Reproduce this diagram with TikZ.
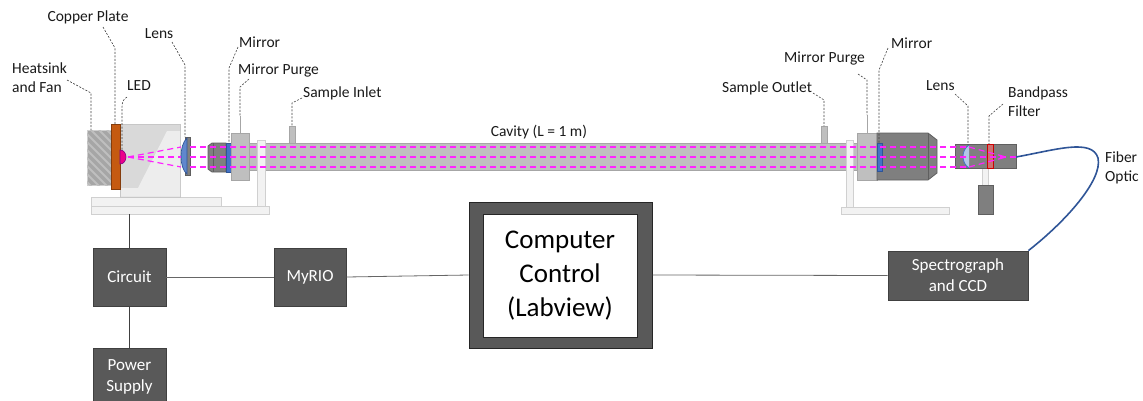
\documentclass[tikz,border=0pt]{standalone}
\usepackage{fontspec}
\setmainfont{Carlito}
\definecolor{copper}{HTML}{C55A11}
\definecolor{copperdk}{HTML}{843C0C}
\definecolor{mirrorblue}{HTML}{4472C4}
\definecolor{mirrorbd}{HTML}{2F5597}
\definecolor{boxgray}{HTML}{595959}
\definecolor{boxbd}{HTML}{404040}
\definecolor{darkpart}{HTML}{7F7F7F}
\definecolor{darkbd}{HTML}{5F5F5F}
\definecolor{midpart}{HTML}{BFBFBF}
\definecolor{midbd}{HTML}{A6A6A6}
\definecolor{lightpart}{HTML}{F2F2F2}
\definecolor{lightbd}{HTML}{D0D0D0}
\definecolor{fiberblue}{HTML}{2F5597}
\definecolor{beamcol}{HTML}{FF22FF}
\begin{document}
\begin{tikzpicture}[x=1pt,y=-1pt,
  lbl/.style={font=\fontsize{15.5}{19}\selectfont, inner sep=0pt, align=left, text=black!90},
  leader/.style={draw=black!75, dash pattern=on 2pt off 1.5pt, line width=0.6pt},
  beam/.style={draw=beamcol, dash pattern=on 6pt off 4pt, line width=1.2pt},
  lightfill/.style={fill=lightpart, draw=lightbd, line width=0.8pt},
  midfill/.style={fill=midpart, draw=midbd, line width=0.8pt},
  darkfill/.style={fill=darkpart, draw=darkbd, line width=0.8pt},
  mirror/.style={fill=mirrorblue, draw=mirrorbd, line width=0.8pt},
  blockbox/.style={fill=boxgray, draw=boxbd, line width=0.8pt, text=white,
    font=\fontsize{17}{21}\selectfont, align=center, inner sep=0pt},
  wire/.style={draw=black!60, line width=0.8pt},
  fiber/.style={draw=fiberblue, line width=1.6pt}
]
\useasboundingbox (0,0) rectangle (1143,400);

% ---------- optical bench: bases and posts ----------
\path[lightfill] (91,197) rectangle (221,206);
\path[lightfill] (91,206) rectangle (269,214);
\path[lightfill] (841,207) rectangle (949,214);

% cavity tube
\path[midfill] (245,143) rectangle (862,170);
\path[midfill] (289,126) rectangle (295,143);   % sample inlet
\path[midfill] (821,126) rectangle (827,143);   % sample outlet

% posts
\path[lightfill] (257,140) rectangle (265,206);
\path[lightfill] (846,140) rectangle (853,207);

% ---------- source side ----------
% heatsink with fins
\path[fill=midbd, draw=lightbd, line width=0.8pt] (87,130) rectangle (111,185);
\begin{scope}
  \clip (87,130) rectangle (111,185);
  \foreach \s in {27,35,...,115}
    \draw[midpart, line width=2pt] (\s,130) -- ++(60,60);
\end{scope}
% LED housing
\path[fill=black!15, draw=black!22, line width=0.8pt] (120,124) rectangle (180,197);
\path[fill=black!7] (167,131) -- (180,131) -- (180,196.5) -- (121,196.5) -- (121,188) -- (138,188) -- cycle;
% copper plate
\path[fill=copper, draw=copperdk, line width=0.8pt] (111,124) rectangle (120,189);
% LED
\path[fill=magenta, draw=violet, line width=0.6pt] (120,150) .. controls (128,150) and (128,164) .. (120,164) -- cycle;
% lens
\path[darkfill] (185,137) rectangle (190,175);
\path[fill=mirrorblue!85, draw=mirrorbd, line width=0.7pt] (187,138) .. controls (179,145) and (179,168) .. (187,174) -- cycle;
% mirror mount, mirror, purge block
\path[darkfill] (208,146) -- (212,143) -- (226,143) -- (226,172) -- (212,172) -- (208,169) -- cycle;
\draw[darkbd, line width=0.6pt] (213,143) -- (213,172);
\path[mirror] (226,143) rectangle (231,172);
\path[midfill] (231,133) rectangle (249,180);
\draw[midbd, line width=1pt] (240,116) -- (240,133);

% ---------- detection side ----------
\path[midfill] (857,133) rectangle (877,180);
\draw[midbd, line width=1pt] (867,115) -- (867,133);
\path[darkfill] (877,133) -- (928,133) -- (937,140) -- (937,173) -- (928,180) -- (877,180) -- cycle;
\draw[darkbd, line width=0.6pt] (928,133) -- (928,180);
\path[mirror] (877,143) rectangle (882,171);
% detector tube and stand
\path[lightfill] (982,168) rectangle (988,185);
\path[darkfill] (978,185) rectangle (993,214);
\path[darkfill] (955,144) rectangle (1016,168);
\path[fill=mirrorblue!40, draw=mirrorblue, line width=0.8pt] (969,145) .. controls (961,150) and (961,163) .. (969,168);
\path[fill=red!60, fill opacity=0.6, draw=red!80!black, line width=0.8pt] (987,144) rectangle (993,168);

% ---------- light path ----------
\draw[beam] (128,157) -- (181,147);
\draw[beam] (128,157) -- (181,157);
\draw[beam] (128,157) -- (181,167);
\draw[beam] (190,147) -- (969,147);
\draw[beam] (190,157) -- (1016,157);
\draw[beam] (190,167) -- (969,167);
\draw[beam] (969,147) -- (1006,157);
\draw[beam] (969,167) -- (1006,157);

% ---------- labels and leaders ----------
\node[lbl, anchor=west] (lHeat) at (12,78) {Heatsink\\and Fan};
\draw[leader] (67,80) -- (91,93) -- (91,130);
\node[lbl] (lCopper) at (88,17) {Copper Plate};
\draw[leader] (103,27) -- (115,48) -- (115,124);
\node[lbl, anchor=west] (lLED) at (127,86) {LED};
\draw[leader] (127,97) .. controls (123,99) and (122,103) .. (122,107) -- (122,150);
\node[lbl] (lLens) at (159,34) {Lens};
\draw[leader] (172,42) -- (185,65) -- (185,137);
\node[lbl, anchor=west] (lMirror) at (239,42) {Mirror};
\draw[leader] (238,47) -- (229,68) -- (229,143);
\node[lbl, anchor=west] (lPurge) at (238,70) {Mirror Purge};
\draw[leader] (249,79) -- (240,87) -- (240,116);
\node[lbl, anchor=west] (lInlet) at (303,93) {Sample Inlet};
\draw[leader] (302,98) -- (292,103) -- (292,126);
\node[lbl] (lCavity) at (539,132) {Cavity (L = 1 m)};
\node[lbl, anchor=west] (lOutlet) at (722,88) {Sample Outlet};
\draw[leader] (813,93) -- (824,100) -- (824,126);
\node[lbl, anchor=west] (lPurgeR) at (784,58) {Mirror Purge};
\draw[leader] (858,74) -- (867,80) -- (867,115);
\node[lbl, anchor=west] (lMirrorR) at (891,43) {Mirror};
\draw[leader] (888,48) -- (879,70) -- (879,143);
\node[lbl, anchor=west] (lLensR) at (926,86) {Lens};
\draw[leader] (955,94) -- (968,106) -- (968,145);
\node[lbl, anchor=west] (lFilter) at (1008,102) {Bandpass\\Filter};
\draw[leader] (1003,104) -- (989,116) -- (989,144);
\node[lbl, anchor=west] (lFiber) at (1105,168) {Fiber\\Optic};

% ---------- control electronics ----------
\coordinate (benchfoot) at (129.5,214);
\node[blockbox, minimum width=73, minimum height=58] (circuit) at (129.5,277) {Circuit};
\node[blockbox, minimum width=73, minimum height=58] (psu) at (129.5,377) {Power\\Supply};
\node[blockbox, minimum width=72, minimum height=58] (myrio) at (310,277) {MyRIO};
\node[fill=boxgray, draw=black!85, line width=1pt, minimum width=183, minimum height=146, inner sep=0pt] (pcouter) at (560.5,275) {};
\node[fill=white, draw=black!85, line width=0.8pt, minimum width=154, minimum height=123,
  font=\fontsize{27}{34}\selectfont, align=center, inner sep=0pt] (pc) at (560,275.5) {Computer\\Control\\(Labview)};
\node[blockbox, minimum width=140, minimum height=49] (spec) at (958,275.5) {Spectrograph\\and CCD};

\draw[draw=boxbd, line width=0.9pt] (benchfoot) -- (circuit.north);
\draw[draw=boxbd, line width=0.9pt] (circuit.south) -- (psu.north);
\draw[wire] (circuit.east) -- (myrio.west);
\draw[wire] (myrio.east) -- (pcouter.west);
\draw[wire] (pcouter.east) -- (spec.west);

% fiber to spectrograph
\coordinate (fiberin) at (1016,157);
\draw[fiber] (fiberin) .. controls (1055,150) and (1092,138) .. (1098,158)
  .. controls (1103,180) and (1065,222) .. (spec.north east);
\end{tikzpicture}
\end{document}
